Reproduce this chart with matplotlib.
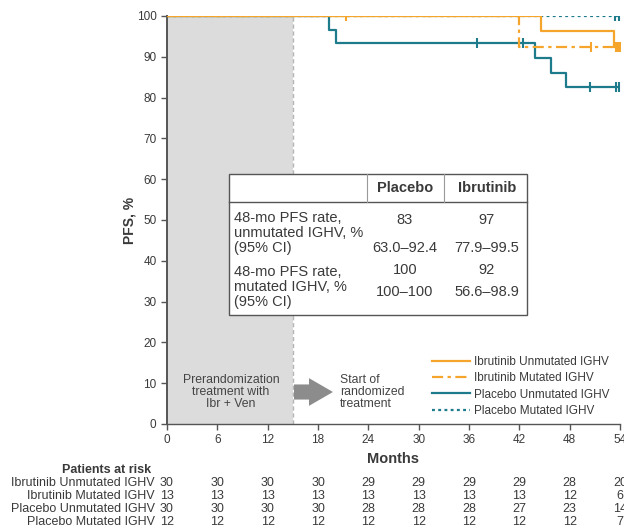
import matplotlib
matplotlib.use("Agg")
import matplotlib.pyplot as plt
import matplotlib.transforms as mtransforms
from matplotlib.patches import Rectangle, FancyArrow
from matplotlib.lines import Line2D

plt.rcParams["font.family"] = ["Liberation Sans", "DejaVu Sans"]

ORANGE = "#F5A52C"
TEAL = "#1D7B8C"
TXT = "#3a3a3a"

# KM step curves (months, PFS %)
ibr_unmut_t = [0, 44.6, 53.3, 54]
ibr_unmut_s = [100, 96.4, 92.4, 92.4]
ibr_unmut_cens_t = [21.3, 53.5, 53.8]
ibr_unmut_cens_s = [100, 92.4, 92.4]

ibr_mut_t = [0, 42.0, 54]
ibr_mut_s = [100, 92.3, 92.3]
ibr_mut_cens_t = [50.5, 53.6, 54]
ibr_mut_cens_s = [92.3, 92.3, 92.3]

pla_unmut_t = [0, 19.3, 20.2, 43.9, 45.8, 47.6, 54]
pla_unmut_s = [100, 96.6, 93.3, 89.7, 86.1, 82.5, 82.5]
pla_unmut_cens_t = [36.9, 42.4, 50.4, 53.5, 53.9]
pla_unmut_cens_s = [93.3, 93.3, 82.5, 82.5, 82.5]

pla_mut_t = [0, 54]
pla_mut_s = [100, 100]
pla_mut_cens_t = [53.4, 53.9]
pla_mut_cens_s = [100, 100]

# patients at risk
risk_times = [0, 6, 12, 18, 24, 30, 36, 42, 48, 54]
risk_labels = ["Ibrutinib Unmutated IGHV", "Ibrutinib Mutated IGHV",
               "Placebo Unmutated IGHV", "Placebo Mutated IGHV"]
ibr_unmut_risk = [30, 30, 30, 30, 29, 29, 29, 29, 28, 20]
ibr_mut_risk = [13, 13, 13, 13, 13, 13, 13, 13, 12, 6]
pla_unmut_risk = [30, 30, 30, 30, 28, 28, 28, 27, 23, 14]
pla_mut_risk = [12, 12, 12, 12, 12, 12, 12, 12, 12, 7]

# summary table
table_cols = ["Placebo", "Ibrutinib"]
unmut_rate = ["83", "97"]
unmut_ci = ["63.0\u201392.4", "77.9\u201399.5"]
mut_rate = ["100", "92"]
mut_ci = ["100\u2013100", "56.6\u201398.9"]

W, H = 624, 527
fig = plt.figure(figsize=(W / 100, H / 100), dpi=100)
ax = fig.add_axes([167 / W, 1 - 424 / H, (620 - 167) / W, (424 - 16) / H])
ax.set_xlim(0, 54)
ax.set_ylim(0, 100)
ax.patch.set_alpha(0)

# prerandomization shading
ax.axvspan(0, 15, color="#dcdcdc", zorder=0, lw=0)
ax.plot([15, 15], [0, 100], ls=(0, (3, 2)), color="#b5b5b5", lw=1, zorder=1)

# curves
LW = 1.6
DOT = (0, (1.3, 1.5))
DASHDOT = (0, (5, 2, 1.5, 2))
ax.step(pla_mut_t, pla_mut_s, where="post", color=TEAL, lw=LW, ls=DOT, zorder=2)
ax.step(pla_unmut_t, pla_unmut_s, where="post", color=TEAL, lw=LW, zorder=3)
ax.step(ibr_mut_t, ibr_mut_s, where="post", color=ORANGE, lw=LW, ls=DASHDOT, zorder=4)
ax.step(ibr_unmut_t, ibr_unmut_s, where="post", color=ORANGE, lw=LW, zorder=5)

ms = 6.5
ax.plot(pla_mut_cens_t, pla_mut_cens_s, ls="none", marker="|", ms=ms, mew=1.5, color=TEAL, zorder=6)
ax.plot(pla_unmut_cens_t, pla_unmut_cens_s, ls="none", marker="|", ms=ms, mew=1.5, color=TEAL, zorder=6)
ax.plot(ibr_mut_cens_t, ibr_mut_cens_s, ls="none", marker="|", ms=ms, mew=1.5, color=ORANGE, zorder=6)
ax.plot(ibr_unmut_cens_t, ibr_unmut_cens_s, ls="none", marker="|", ms=ms, mew=1.5, color=ORANGE, zorder=6)

# axes styling
for side in ["top", "right"]:
    ax.spines[side].set_visible(False)
ax.spines["left"].set_color("#555555")
ax.spines["bottom"].set_color("#555555")
ax.spines["left"].set_linewidth(1.4)
ax.spines["bottom"].set_linewidth(1.0)
ax.set_xticks(risk_times)
ax.set_yticks(range(0, 101, 10))
ax.tick_params(direction="out", length=4, width=1, colors="#555555", labelcolor=TXT, labelsize=8.5)
ax.set_xlabel("Months", fontsize=10.5, fontweight="bold", color=TXT, labelpad=4)
ax.set_ylabel("PFS, %", fontsize=10, fontweight="bold", color=TXT)
ax.yaxis.set_label_coords(-0.068, 0.5)

# summary table box
def py(p):
    return (424 - p) / 4.08

def px(p):
    return (p - 167) / 8.39

ax.add_patch(Rectangle((px(229), py(315)), px(527) - px(229), py(174) - py(315),
                       facecolor="white", edgecolor="#555555", lw=1, zorder=7))
ax.plot([px(229), px(527)], [py(202), py(202)], color="#555555", lw=1, zorder=8)
for xd in [367, 444]:
    ax.plot([px(xd), px(xd)], [py(202), py(174)], color="#999999", lw=0.8, zorder=8)
col_x = [px(405), px(487)]
tk = dict(fontsize=10.5, color=TXT, zorder=9)
for cx, name in zip(col_x, table_cols):
    ax.text(cx, py(188), name, ha="center", va="center", fontweight="bold", **tk)
ax.text(px(234), py(233), "48-mo PFS rate,\nunmutated IGHV, %\n(95% CI)", ha="left", va="center",
        linespacing=1.1, **tk)
ax.text(px(234), py(287), "48-mo PFS rate,\nmutated IGHV, %\n(95% CI)", ha="left", va="center",
        linespacing=1.1, **tk)
for i, cx in enumerate(col_x):
    ax.text(cx, py(220), unmut_rate[i], ha="center", va="center", **tk)
    ax.text(cx, py(248), unmut_ci[i], ha="center", va="center", **tk)
    ax.text(cx, py(270), mut_rate[i], ha="center", va="center", **tk)
    ax.text(cx, py(292), mut_ci[i], ha="center", va="center", **tk)

# annotations
ax.text(px(231), py(392), "Prerandomization\ntreatment with\nIbr + Ven", ha="center", va="center",
        fontsize=8.8, color="#444444", linespacing=1.05, zorder=9)
ax.add_patch(FancyArrow(px(294), py(392), px(309) - px(294), 0, width=3.7, head_width=6.8,
                        head_length=px(333) - px(309), length_includes_head=False,
                        color="#8c8c8c", lw=0, zorder=9))
ax.text(px(340), py(392), "Start of\nrandomized\ntreatment", ha="left", va="center",
        fontsize=8.8, color="#444444", linespacing=1.05, zorder=9)

# legend
handles = [
    Line2D([], [], color=ORANGE, lw=LW),
    Line2D([], [], color=ORANGE, lw=LW, ls=DASHDOT),
    Line2D([], [], color=TEAL, lw=LW),
    Line2D([], [], color=TEAL, lw=LW, ls=DOT),
]
leg = fig.legend(handles, risk_labels, loc="upper left", bbox_to_anchor=(432 / W, 1 - 356 / H),
                 frameon=False, fontsize=8.5, handlelength=3.2, handletextpad=0.35,
                 labelspacing=0.36, borderpad=0, borderaxespad=0)
for t in leg.get_texts():
    t.set_color(TXT)

# patients at risk
fig.text(151 / W, 1 - 470 / H, "Patients at risk", ha="right", va="center", fontsize=9,
         fontweight="bold", color=TXT)
trans = mtransforms.blended_transform_factory(ax.transData, fig.transFigure)
rows = [ibr_unmut_risk, ibr_mut_risk, pla_unmut_risk, pla_mut_risk]
row_y = [483, 496, 509, 522]
for lab, vals, yp in zip(risk_labels, rows, row_y):
    fig.text(155 / W, 1 - yp / H, lab, ha="right", va="center", fontsize=9, color=TXT)
    for t, v in zip(risk_times, vals):
        ax.text(t, 1 - yp / H, str(v), transform=trans, ha="center", va="center",
                fontsize=9, color=TXT, clip_on=False)

fig.savefig("out.png", dpi=100)
